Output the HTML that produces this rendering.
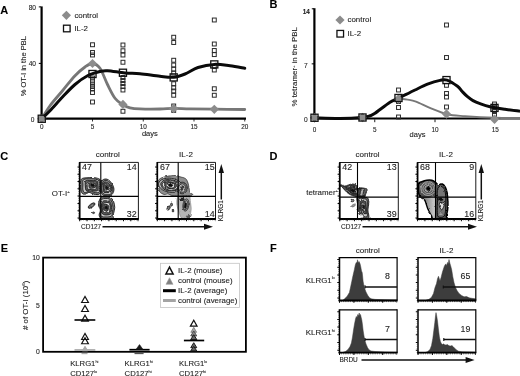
<!DOCTYPE html>
<html><head><meta charset="utf-8"><title>Figure</title>
<style>
html,body{margin:0;padding:0;background:#fff;}
body{width:520px;height:376px;overflow:hidden;font-family:"Liberation Sans",sans-serif;}
svg{display:block;font-family:"Liberation Sans",sans-serif;filter:blur(0.35px);}
text{stroke:#222;stroke-width:0.1px;}
</style></head><body>
<svg width="520" height="376" viewBox="0 0 520 376">
<rect width="520" height="376" fill="#fff"/>
<text x="0.30" y="14.30" font-size="11.00" text-anchor="start" font-weight="bold" fill="#000" >A</text>
<line x1="41.60" y1="6.40" x2="41.60" y2="119.45" stroke="#000" stroke-width="2.20" />
<line x1="40.50" y1="118.55" x2="246.00" y2="118.55" stroke="#000" stroke-width="2.20" />
<text x="36.00" y="10.00" font-size="6.60" text-anchor="end" font-weight="normal" fill="#222" >80</text>
<line x1="38.80" y1="6.90" x2="41.00" y2="6.90" stroke="#000" stroke-width="1.00" />
<line x1="38.80" y1="63.40" x2="41.00" y2="63.40" stroke="#000" stroke-width="1.00" />
<text x="36.00" y="66.20" font-size="6.60" text-anchor="end" font-weight="normal" fill="#222" >40</text>
<text x="34.30" y="121.90" font-size="6.60" text-anchor="end" font-weight="normal" fill="#222" >0</text>
<text x="41.75" y="128.80" font-size="6.40" text-anchor="middle" font-weight="normal" fill="#222" >0</text>
<line x1="41.75" y1="119.00" x2="41.75" y2="121.50" stroke="#000" stroke-width="0.80" />
<text x="92.50" y="128.80" font-size="6.40" text-anchor="middle" font-weight="normal" fill="#222" >5</text>
<line x1="92.50" y1="119.00" x2="92.50" y2="121.50" stroke="#000" stroke-width="0.80" />
<text x="143.25" y="128.80" font-size="6.40" text-anchor="middle" font-weight="normal" fill="#222" >10</text>
<line x1="143.25" y1="119.00" x2="143.25" y2="121.50" stroke="#000" stroke-width="0.80" />
<text x="194.00" y="128.80" font-size="6.40" text-anchor="middle" font-weight="normal" fill="#222" >15</text>
<line x1="194.00" y1="119.00" x2="194.00" y2="121.50" stroke="#000" stroke-width="0.80" />
<text x="244.75" y="128.80" font-size="6.40" text-anchor="middle" font-weight="normal" fill="#222" >20</text>
<line x1="244.75" y1="119.00" x2="244.75" y2="121.50" stroke="#000" stroke-width="0.80" />
<text x="149.80" y="136.10" font-size="7.50" text-anchor="middle" font-weight="normal" fill="#222" >days</text>
<text transform="translate(25.90,66.20) rotate(-90)" font-size="7.50" text-anchor="middle" fill="#222">% OT-I in the PBL</text>
<rect x="90.55" y="42.80" width="3.90" height="3.90" fill="none" stroke="#2a2a2a" stroke-width="1.00"/>
<rect x="90.55" y="50.55" width="3.90" height="3.90" fill="none" stroke="#2a2a2a" stroke-width="1.00"/>
<rect x="90.55" y="53.05" width="3.90" height="3.90" fill="none" stroke="#2a2a2a" stroke-width="1.00"/>
<rect x="90.55" y="76.05" width="3.90" height="3.90" fill="none" stroke="#2a2a2a" stroke-width="1.00"/>
<rect x="90.55" y="79.05" width="3.90" height="3.90" fill="none" stroke="#2a2a2a" stroke-width="1.00"/>
<rect x="90.55" y="82.05" width="3.90" height="3.90" fill="none" stroke="#2a2a2a" stroke-width="1.00"/>
<rect x="90.55" y="84.55" width="3.90" height="3.90" fill="none" stroke="#2a2a2a" stroke-width="1.00"/>
<rect x="90.55" y="87.05" width="3.90" height="3.90" fill="none" stroke="#2a2a2a" stroke-width="1.00"/>
<rect x="90.55" y="90.55" width="3.90" height="3.90" fill="none" stroke="#2a2a2a" stroke-width="1.00"/>
<rect x="90.55" y="100.05" width="3.90" height="3.90" fill="none" stroke="#2a2a2a" stroke-width="1.00"/>
<rect x="121.00" y="43.05" width="3.90" height="3.90" fill="none" stroke="#2a2a2a" stroke-width="1.00"/>
<rect x="121.00" y="48.80" width="3.90" height="3.90" fill="none" stroke="#2a2a2a" stroke-width="1.00"/>
<rect x="121.00" y="53.05" width="3.90" height="3.90" fill="none" stroke="#2a2a2a" stroke-width="1.00"/>
<rect x="121.00" y="60.30" width="3.90" height="3.90" fill="none" stroke="#2a2a2a" stroke-width="1.00"/>
<rect x="121.00" y="75.55" width="3.90" height="3.90" fill="none" stroke="#2a2a2a" stroke-width="1.00"/>
<rect x="121.00" y="78.55" width="3.90" height="3.90" fill="none" stroke="#2a2a2a" stroke-width="1.00"/>
<rect x="121.00" y="81.55" width="3.90" height="3.90" fill="none" stroke="#2a2a2a" stroke-width="1.00"/>
<rect x="121.00" y="84.55" width="3.90" height="3.90" fill="none" stroke="#2a2a2a" stroke-width="1.00"/>
<rect x="121.00" y="88.05" width="3.90" height="3.90" fill="none" stroke="#2a2a2a" stroke-width="1.00"/>
<rect x="121.00" y="109.30" width="3.90" height="3.90" fill="none" stroke="#2a2a2a" stroke-width="1.00"/>
<rect x="171.75" y="35.30" width="3.90" height="3.90" fill="none" stroke="#2a2a2a" stroke-width="1.00"/>
<rect x="171.75" y="40.55" width="3.90" height="3.90" fill="none" stroke="#2a2a2a" stroke-width="1.00"/>
<rect x="171.75" y="58.30" width="3.90" height="3.90" fill="none" stroke="#2a2a2a" stroke-width="1.00"/>
<rect x="171.75" y="63.05" width="3.90" height="3.90" fill="none" stroke="#2a2a2a" stroke-width="1.00"/>
<rect x="171.75" y="67.30" width="3.90" height="3.90" fill="none" stroke="#2a2a2a" stroke-width="1.00"/>
<rect x="171.75" y="71.05" width="3.90" height="3.90" fill="none" stroke="#2a2a2a" stroke-width="1.00"/>
<rect x="171.75" y="81.80" width="3.90" height="3.90" fill="none" stroke="#2a2a2a" stroke-width="1.00"/>
<rect x="171.75" y="85.85" width="3.90" height="3.90" fill="none" stroke="#2a2a2a" stroke-width="1.00"/>
<rect x="171.75" y="89.05" width="3.90" height="3.90" fill="none" stroke="#2a2a2a" stroke-width="1.00"/>
<rect x="171.75" y="93.30" width="3.90" height="3.90" fill="none" stroke="#2a2a2a" stroke-width="1.00"/>
<rect x="171.75" y="104.05" width="3.90" height="3.90" fill="none" stroke="#2a2a2a" stroke-width="1.00"/>
<rect x="171.75" y="108.45" width="3.90" height="3.90" fill="none" stroke="#2a2a2a" stroke-width="1.00"/>
<rect x="212.35" y="18.05" width="3.90" height="3.90" fill="none" stroke="#2a2a2a" stroke-width="1.00"/>
<rect x="212.35" y="42.05" width="3.90" height="3.90" fill="none" stroke="#2a2a2a" stroke-width="1.00"/>
<rect x="212.35" y="48.55" width="3.90" height="3.90" fill="none" stroke="#2a2a2a" stroke-width="1.00"/>
<rect x="212.35" y="52.65" width="3.90" height="3.90" fill="none" stroke="#2a2a2a" stroke-width="1.00"/>
<rect x="212.35" y="64.55" width="3.90" height="3.90" fill="none" stroke="#2a2a2a" stroke-width="1.00"/>
<rect x="212.35" y="68.05" width="3.90" height="3.90" fill="none" stroke="#2a2a2a" stroke-width="1.00"/>
<rect x="212.35" y="86.80" width="3.90" height="3.90" fill="none" stroke="#2a2a2a" stroke-width="1.00"/>
<rect x="212.35" y="93.30" width="3.90" height="3.90" fill="none" stroke="#2a2a2a" stroke-width="1.00"/>
<rect x="39.80" y="116.80" width="3.90" height="3.90" fill="none" stroke="#2a2a2a" stroke-width="1.00"/>
<path d="M41.75,118.75 C43.12,116.58 46.54,110.42 50.00,105.75 C53.46,101.08 58.33,95.75 62.50,90.75 C66.67,85.75 71.25,79.71 75.00,75.75 C78.75,71.79 82.08,69.04 85.00,67.00 C87.92,64.96 90.00,63.29 92.50,63.50 C95.00,63.71 97.50,64.75 100.00,68.25 C102.50,71.75 105.00,79.50 107.50,84.50 C110.00,89.50 112.50,94.92 115.00,98.25 C117.50,101.58 120.00,102.91 122.50,104.50 C125.00,106.09 127.08,107.07 130.00,107.80 C132.92,108.53 135.00,108.70 140.00,108.90 C145.00,109.10 154.38,109.10 160.00,109.00 C165.62,108.90 168.70,108.32 173.70,108.30 C178.70,108.28 183.23,108.75 190.00,108.90 C196.77,109.05 205.18,109.10 214.30,109.20 C223.43,109.30 239.68,109.45 244.75,109.50" fill="none" stroke="#777" stroke-width="2.8" stroke-linecap="round"/>
<path d="M41.75,118.75 C43.12,117.42 46.54,114.38 50.00,110.75 C53.46,107.12 58.33,101.38 62.50,97.00 C66.67,92.62 70.83,88.04 75.00,84.50 C79.17,80.96 83.33,77.92 87.50,75.75 C91.67,73.58 96.67,72.33 100.00,71.50 C103.33,70.67 103.33,70.52 107.50,70.75 C111.67,70.98 119.58,72.40 125.00,72.90 C130.42,73.40 134.17,73.18 140.00,73.75 C145.83,74.32 154.38,75.72 160.00,76.30 C165.62,76.88 169.58,77.58 173.75,77.20 C177.92,76.82 180.96,75.62 185.00,74.00 C189.04,72.38 193.10,69.10 198.00,67.50 C202.90,65.90 209.07,64.68 214.40,64.40 C219.73,64.12 224.94,65.17 230.00,65.80 C235.06,66.43 242.29,67.80 244.75,68.20" fill="none" stroke="#0a0a0a" stroke-width="3.0" stroke-linecap="round"/>
<path d="M37.15,118.75 L41.75,114.15 L46.35,118.75 L41.75,123.35 Z" fill="#8c8c8c"/>
<path d="M87.90,63.50 L92.50,58.90 L97.10,63.50 L92.50,68.10 Z" fill="#8c8c8c"/>
<path d="M118.35,104.40 L122.95,99.80 L127.55,104.40 L122.95,109.00 Z" fill="#8c8c8c"/>
<path d="M169.10,108.60 L173.70,104.00 L178.30,108.60 L173.70,113.20 Z" fill="#8c8c8c"/>
<path d="M209.70,109.30 L214.30,104.70 L218.90,109.30 L214.30,113.90 Z" fill="#8c8c8c"/>
<rect x="38.20" y="115.20" width="7.10" height="7.10" fill="none" stroke="#111" stroke-width="1.30"/>
<rect x="88.95" y="70.45" width="7.10" height="7.10" fill="none" stroke="#111" stroke-width="1.30"/>
<rect x="119.40" y="69.20" width="7.10" height="7.10" fill="none" stroke="#111" stroke-width="1.30"/>
<rect x="170.15" y="73.85" width="7.10" height="7.10" fill="none" stroke="#111" stroke-width="1.30"/>
<rect x="210.75" y="60.85" width="7.10" height="7.10" fill="none" stroke="#111" stroke-width="1.30"/>
<path d="M61.80,15.30 L66.40,10.70 L71.00,15.30 L66.40,19.90 Z" fill="#8c8c8c"/>
<text x="74.40" y="17.50" font-size="7.90" text-anchor="start" font-weight="normal" fill="#222" >control</text>
<rect x="63.50" y="25.20" width="6.60" height="6.60" fill="none" stroke="#111" stroke-width="1.30"/>
<text x="74.40" y="31.20" font-size="7.90" text-anchor="start" font-weight="normal" fill="#222" >IL-2</text>
<text x="269.60" y="8.20" font-size="11.00" text-anchor="start" font-weight="bold" fill="#000" >B</text>
<line x1="314.40" y1="8.20" x2="314.40" y2="119.20" stroke="#000" stroke-width="2.20" />
<line x1="313.30" y1="118.50" x2="520.00" y2="118.50" stroke="#000" stroke-width="2.20" />
<text x="309.70" y="13.70" font-size="6.30" text-anchor="end" font-weight="bold" fill="#222" >14</text>
<line x1="311.80" y1="8.80" x2="314.00" y2="8.80" stroke="#000" stroke-width="1.00" />
<line x1="311.70" y1="63.85" x2="314.00" y2="63.85" stroke="#000" stroke-width="1.00" />
<text x="307.70" y="67.70" font-size="6.60" text-anchor="end" font-weight="normal" fill="#222" >7</text>
<text x="307.60" y="121.90" font-size="6.60" text-anchor="end" font-weight="normal" fill="#222" >0</text>
<text x="314.50" y="131.70" font-size="6.40" text-anchor="middle" font-weight="normal" fill="#222" >0</text>
<line x1="314.50" y1="119.40" x2="314.50" y2="122.20" stroke="#000" stroke-width="0.90" />
<text x="374.75" y="131.70" font-size="6.40" text-anchor="middle" font-weight="normal" fill="#222" >5</text>
<line x1="374.75" y1="119.40" x2="374.75" y2="122.20" stroke="#000" stroke-width="0.90" />
<text x="435.00" y="131.70" font-size="6.40" text-anchor="middle" font-weight="normal" fill="#222" >10</text>
<line x1="435.00" y1="119.40" x2="435.00" y2="122.20" stroke="#000" stroke-width="0.90" />
<text x="495.25" y="131.70" font-size="6.40" text-anchor="middle" font-weight="normal" fill="#222" >15</text>
<line x1="495.25" y1="119.40" x2="495.25" y2="122.20" stroke="#000" stroke-width="0.90" />
<text x="417.50" y="136.60" font-size="7.50" text-anchor="middle" font-weight="normal" fill="#222" >days</text>
<text transform="translate(296.90,66.80) rotate(-90)" font-size="7.90" text-anchor="middle" fill="#222">% tetramer<tspan font-size="4" dy="-2.3">+</tspan><tspan dy="2.3"> in the PBL</tspan></text>
<rect x="396.55" y="88.05" width="3.90" height="3.90" fill="none" stroke="#2a2a2a" stroke-width="1.00"/>
<rect x="396.55" y="99.55" width="3.90" height="3.90" fill="none" stroke="#2a2a2a" stroke-width="1.00"/>
<rect x="396.55" y="105.55" width="3.90" height="3.90" fill="none" stroke="#2a2a2a" stroke-width="1.00"/>
<rect x="396.55" y="115.05" width="3.90" height="3.90" fill="none" stroke="#2a2a2a" stroke-width="1.00"/>
<rect x="444.55" y="23.05" width="3.90" height="3.90" fill="none" stroke="#2a2a2a" stroke-width="1.00"/>
<rect x="444.55" y="55.55" width="3.90" height="3.90" fill="none" stroke="#2a2a2a" stroke-width="1.00"/>
<rect x="444.55" y="83.35" width="3.90" height="3.90" fill="none" stroke="#2a2a2a" stroke-width="1.00"/>
<rect x="444.55" y="91.55" width="3.90" height="3.90" fill="none" stroke="#2a2a2a" stroke-width="1.00"/>
<rect x="444.55" y="95.05" width="3.90" height="3.90" fill="none" stroke="#2a2a2a" stroke-width="1.00"/>
<rect x="444.55" y="105.05" width="3.90" height="3.90" fill="none" stroke="#2a2a2a" stroke-width="1.00"/>
<rect x="492.55" y="102.05" width="3.90" height="3.90" fill="none" stroke="#2a2a2a" stroke-width="1.00"/>
<rect x="492.55" y="105.05" width="3.90" height="3.90" fill="none" stroke="#2a2a2a" stroke-width="1.00"/>
<rect x="492.55" y="109.55" width="3.90" height="3.90" fill="none" stroke="#2a2a2a" stroke-width="1.00"/>
<rect x="492.55" y="112.55" width="3.90" height="3.90" fill="none" stroke="#2a2a2a" stroke-width="1.00"/>
<path d="M398.80,98.60 C400.25,98.77 404.63,99.10 407.50,99.60 C410.37,100.10 412.08,100.13 416.00,101.60 C419.92,103.07 425.83,106.28 431.00,108.40 C436.17,110.52 441.33,113.00 447.00,114.30 C452.67,115.60 457.00,115.62 465.00,116.20 C473.00,116.78 485.83,117.50 495.00,117.80 C504.17,118.10 515.83,117.97 520.00,118.00" fill="none" stroke="#777" stroke-width="1.9"/>
<path d="M314.50,117.75 C318.75,117.86 332.08,118.46 340.00,118.40 C347.92,118.34 357.00,117.84 362.00,117.40 C367.00,116.96 367.83,116.44 370.00,115.75 C372.17,115.06 371.67,115.49 375.00,113.25 C378.33,111.01 386.00,104.84 390.00,102.30 C394.00,99.76 394.83,100.05 399.00,98.00 C403.17,95.95 410.25,92.30 415.00,90.00 C419.75,87.70 423.33,85.80 427.50,84.20 C431.67,82.60 436.75,81.08 440.00,80.40 C443.25,79.72 444.08,79.12 447.00,80.10 C449.92,81.08 455.00,84.43 457.50,86.30 C460.00,88.17 460.33,89.57 462.00,91.30 C463.67,93.03 465.67,95.15 467.50,96.70 C469.33,98.25 470.92,99.43 473.00,100.60 C475.08,101.77 477.17,102.67 480.00,103.70 C482.83,104.73 485.83,105.87 490.00,106.80 C494.17,107.73 500.00,108.57 505.00,109.30 C510.00,110.03 517.50,110.88 520.00,111.20" fill="none" stroke="#0a0a0a" stroke-width="3.0"/>
<path d="M309.80,117.75 L314.50,113.05 L319.20,117.75 L314.50,122.45 Z" fill="#8c8c8c"/>
<path d="M357.80,117.50 L362.50,112.80 L367.20,117.50 L362.50,122.20 Z" fill="#8c8c8c"/>
<path d="M393.80,99.00 L398.50,94.30 L403.20,99.00 L398.50,103.70 Z" fill="#8c8c8c"/>
<path d="M441.80,114.00 L446.50,109.30 L451.20,114.00 L446.50,118.70 Z" fill="#8c8c8c"/>
<path d="M489.80,119.20 L494.50,114.50 L499.20,119.20 L494.50,123.90 Z" fill="#8c8c8c"/>
<rect x="310.95" y="114.20" width="7.10" height="7.10" fill="none" stroke="#111" stroke-width="1.30"/>
<rect x="358.95" y="113.95" width="7.10" height="7.10" fill="none" stroke="#111" stroke-width="1.30"/>
<rect x="394.95" y="94.45" width="7.10" height="7.10" fill="none" stroke="#111" stroke-width="1.30"/>
<rect x="442.95" y="76.55" width="7.10" height="7.10" fill="none" stroke="#111" stroke-width="1.30"/>
<rect x="490.95" y="104.35" width="7.10" height="7.10" fill="none" stroke="#111" stroke-width="1.30"/>
<path d="M335.40,20.00 L340.00,15.40 L344.60,20.00 L340.00,24.60 Z" fill="#8c8c8c"/>
<text x="347.50" y="22.30" font-size="7.90" text-anchor="start" font-weight="normal" fill="#222" >control</text>
<rect x="336.95" y="30.45" width="6.60" height="6.60" fill="none" stroke="#111" stroke-width="1.30"/>
<text x="347.50" y="35.70" font-size="7.90" text-anchor="start" font-weight="normal" fill="#222" >IL-2</text>
<text x="0.30" y="159.60" font-size="11.00" text-anchor="start" font-weight="bold" fill="#000" >C</text>
<text x="107.70" y="157.30" font-size="8.00" text-anchor="middle" font-weight="normal" fill="#222" >control</text>
<text x="186.00" y="157.30" font-size="8.00" text-anchor="middle" font-weight="normal" fill="#222" >IL-2</text>
<text x="51.80" y="195.80" font-size="7.90" text-anchor="start" font-weight="normal" fill="#222" >OT-I<tspan font-size="4.4" dy="-2.6">+</tspan></text>
<text x="81.00" y="228.70" font-size="6.50" text-anchor="start" font-weight="normal" fill="#222" >CD127</text>
<line x1="102.50" y1="226.80" x2="207.00" y2="226.80" stroke="#111" stroke-width="1.50" />
<path d="M213.00,226.80 L204.00,223.80 L204.00,229.80 Z" fill="#111"/>
<line x1="221.30" y1="199.50" x2="221.30" y2="170.00" stroke="#111" stroke-width="1.50" />
<path d="M221.30,164.00 L218.60,173.00 L224.00,173.00 Z" fill="#111"/>
<text transform="translate(223.20,210.70) rotate(-90)" font-size="6.50" text-anchor="middle" fill="#222">KLRG1</text>
<text x="269.50" y="159.60" font-size="11.00" text-anchor="start" font-weight="bold" fill="#000" >D</text>
<text x="367.60" y="157.30" font-size="8.00" text-anchor="middle" font-weight="normal" fill="#222" >control</text>
<text x="446.00" y="157.30" font-size="8.00" text-anchor="middle" font-weight="normal" fill="#222" >IL-2</text>
<text x="306.20" y="194.50" font-size="7.90" text-anchor="start" font-weight="normal" fill="#222" >tetramer<tspan font-size="4.4" dy="-2.6">+</tspan></text>
<text x="341.00" y="228.70" font-size="6.50" text-anchor="start" font-weight="normal" fill="#222" >CD127</text>
<line x1="362.50" y1="226.80" x2="471.00" y2="226.80" stroke="#111" stroke-width="1.50" />
<path d="M477.00,226.80 L468.00,223.80 L468.00,229.80 Z" fill="#111"/>
<line x1="481.30" y1="199.50" x2="481.30" y2="170.00" stroke="#111" stroke-width="1.50" />
<path d="M481.30,164.00 L478.60,173.00 L484.00,173.00 Z" fill="#111"/>
<text transform="translate(483.20,210.70) rotate(-90)" font-size="6.50" text-anchor="middle" fill="#222">KLRG1</text>
<defs><filter id="rough" x="-5%" y="-5%" width="110%" height="110%"><feTurbulence type="fractalNoise" baseFrequency="0.35" numOctaves="2" seed="3" result="n"/><feDisplacementMap in="SourceGraphic" in2="n" scale="2.2" xChannelSelector="R" yChannelSelector="G"/></filter></defs>
<g filter="url(#rough)">
<path d="M80.90,180.00 C81.28,178.87 81.98,178.57 83.00,178.20 C84.02,177.83 85.50,177.92 87.00,177.80 C88.50,177.68 90.42,177.47 92.00,177.50 C93.58,177.53 95.17,177.67 96.50,178.00 C97.83,178.33 99.22,178.67 100.00,179.50 C100.78,180.33 101.00,181.58 101.20,183.00 C101.40,184.42 101.27,186.42 101.20,188.00 C101.13,189.58 101.33,191.40 100.80,192.50 C100.27,193.60 99.30,194.37 98.00,194.60 C96.70,194.83 94.50,194.27 93.00,193.90 C91.50,193.53 90.17,192.38 89.00,192.40 C87.83,192.42 87.08,193.78 86.00,194.00 C84.92,194.22 83.35,194.37 82.50,193.70 C81.65,193.03 81.20,191.45 80.90,190.00 C80.60,188.55 80.70,186.67 80.70,185.00 C80.70,183.33 80.52,181.13 80.90,180.00Z" fill="#7c7c7c" stroke="#0c0c0c" stroke-width="0.80" opacity="1.00" stroke-linejoin="round"/>
<path d="M82.92,180.69 C83.23,179.73 84.01,179.44 84.87,179.16 C85.73,178.89 86.91,179.08 88.07,179.04 C89.23,178.99 90.59,178.86 91.83,178.89 C93.07,178.93 94.42,179.02 95.51,179.25 C96.60,179.47 97.72,179.51 98.40,180.24 C99.09,180.97 99.46,182.45 99.64,183.62 C99.81,184.80 99.46,185.99 99.42,187.30 C99.39,188.61 99.83,190.58 99.45,191.50 C99.06,192.42 98.14,192.75 97.12,192.84 C96.09,192.92 94.49,192.33 93.30,192.02 C92.10,191.70 90.99,190.93 89.93,190.96 C88.88,190.98 87.93,191.91 86.97,192.15 C86.02,192.39 84.91,192.88 84.22,192.39 C83.53,191.90 83.03,190.43 82.82,189.19 C82.61,187.95 82.96,186.36 82.98,184.95 C82.99,183.53 82.60,181.66 82.92,180.69Z" fill="#c9c9c9" stroke="#0c0c0c" stroke-width="0.80" opacity="1.00" stroke-linejoin="round"/>
<path d="M85.22,181.57 C85.39,180.80 85.55,180.71 86.22,180.51 C86.89,180.32 88.22,180.44 89.21,180.41 C90.20,180.38 91.17,180.33 92.16,180.33 C93.14,180.34 94.23,180.23 95.14,180.45 C96.04,180.68 97.14,181.13 97.61,181.69 C98.09,182.26 97.90,182.92 98.00,183.84 C98.09,184.77 98.18,186.27 98.19,187.25 C98.21,188.23 98.37,189.11 98.08,189.72 C97.79,190.34 97.33,190.74 96.46,190.95 C95.60,191.15 93.93,191.14 92.87,190.95 C91.81,190.76 90.92,189.80 90.12,189.80 C89.33,189.80 88.75,190.80 88.13,190.95 C87.50,191.10 86.84,191.16 86.39,190.69 C85.95,190.22 85.65,189.07 85.45,188.14 C85.25,187.22 85.23,186.23 85.19,185.14 C85.15,184.04 85.05,182.34 85.22,181.57Z" fill="#5c5c5c" stroke="#0c0c0c" stroke-width="0.80" opacity="1.00" stroke-linejoin="round"/>
<path d="M87.38,182.78 C87.62,182.32 88.07,182.44 88.53,182.29 C88.99,182.15 89.51,181.99 90.11,181.91 C90.71,181.83 91.38,181.75 92.12,181.80 C92.87,181.85 93.90,182.13 94.60,182.23 C95.31,182.34 96.01,182.08 96.34,182.43 C96.67,182.77 96.59,183.63 96.58,184.31 C96.58,184.98 96.39,185.80 96.33,186.46 C96.27,187.13 96.49,187.75 96.25,188.29 C96.01,188.83 95.49,189.59 94.88,189.71 C94.28,189.83 93.28,189.18 92.63,189.03 C91.98,188.87 91.52,188.74 90.98,188.77 C90.43,188.80 89.86,189.11 89.38,189.21 C88.90,189.31 88.40,189.64 88.10,189.38 C87.79,189.12 87.72,188.38 87.55,187.66 C87.38,186.94 87.11,185.86 87.08,185.05 C87.05,184.23 87.14,183.24 87.38,182.78Z" fill="#e4e4e4" stroke="#0c0c0c" stroke-width="0.80" opacity="1.00" stroke-linejoin="round"/>
<path d="M89.13,183.91 C89.33,183.57 89.90,183.04 90.18,182.86 C90.46,182.67 90.47,182.79 90.83,182.79 C91.20,182.80 91.85,182.87 92.37,182.88 C92.90,182.89 93.60,182.78 93.97,182.87 C94.35,182.97 94.40,183.15 94.61,183.43 C94.82,183.72 95.06,184.13 95.23,184.59 C95.40,185.04 95.64,185.69 95.64,186.17 C95.63,186.65 95.40,187.22 95.21,187.47 C95.02,187.73 94.83,187.62 94.48,187.71 C94.14,187.80 93.57,188.03 93.14,188.01 C92.71,187.98 92.33,187.61 91.92,187.57 C91.51,187.53 91.10,187.72 90.68,187.77 C90.27,187.82 89.73,188.08 89.43,187.84 C89.14,187.61 89.00,186.83 88.92,186.34 C88.85,185.85 88.93,185.31 88.97,184.90 C89.00,184.50 88.93,184.25 89.13,183.91Z" fill="#5c5c5c" stroke="#0c0c0c" stroke-width="0.80" opacity="1.00" stroke-linejoin="round"/>
<path d="M91.02,184.16 C91.01,183.90 90.96,183.99 91.08,183.98 C91.19,183.96 91.50,184.00 91.71,184.07 C91.92,184.14 92.07,184.40 92.36,184.38 C92.64,184.36 93.18,183.96 93.40,183.95 C93.61,183.93 93.55,184.18 93.63,184.30 C93.72,184.41 93.78,184.35 93.88,184.63 C93.98,184.90 94.22,185.67 94.22,185.94 C94.22,186.20 94.06,186.16 93.90,186.21 C93.73,186.26 93.43,186.23 93.24,186.24 C93.04,186.24 92.84,186.30 92.72,186.25 C92.59,186.21 92.70,185.89 92.50,185.97 C92.30,186.05 91.70,186.72 91.51,186.75 C91.33,186.78 91.44,186.34 91.38,186.14 C91.32,185.94 91.21,185.65 91.16,185.54 C91.12,185.43 91.15,185.74 91.13,185.51 C91.10,185.28 91.03,184.41 91.02,184.16Z" fill="#111" stroke="#0c0c0c" stroke-width="0.80" opacity="1.00" stroke-linejoin="round"/>
<path d="M101.62,181.12 C102.46,179.42 104.54,178.94 106.00,179.00 C107.46,179.06 109.12,180.21 110.38,181.50 C111.62,182.79 112.94,185.15 113.50,186.75 C114.06,188.35 114.12,189.73 113.75,191.12 C113.38,192.52 112.54,194.35 111.25,195.12 C109.96,195.90 107.50,195.85 106.00,195.75 C104.50,195.65 103.08,195.58 102.25,194.50 C101.42,193.42 101.10,191.48 101.00,189.25 C100.90,187.02 100.79,182.83 101.62,181.12Z" fill="#7c7c7c" stroke="#0c0c0c" stroke-width="0.80" opacity="1.00" stroke-linejoin="round"/>
<path d="M102.85,182.41 C103.53,180.99 104.90,180.38 106.01,180.44 C107.13,180.50 108.48,181.66 109.53,182.77 C110.59,183.88 111.87,185.83 112.35,187.08 C112.83,188.33 112.69,189.11 112.42,190.28 C112.14,191.45 111.70,193.39 110.70,194.09 C109.70,194.79 107.66,194.59 106.43,194.48 C105.20,194.37 104.08,194.33 103.33,193.41 C102.57,192.49 101.97,190.78 101.89,188.95 C101.81,187.11 102.16,183.83 102.85,182.41Z" fill="#c9c9c9" stroke="#0c0c0c" stroke-width="0.80" opacity="1.00" stroke-linejoin="round"/>
<path d="M103.46,183.09 C103.92,181.92 105.11,181.79 106.03,181.91 C106.95,182.02 108.08,182.95 108.99,183.79 C109.90,184.64 111.04,185.92 111.48,186.98 C111.92,188.04 111.87,189.28 111.63,190.16 C111.39,191.05 110.95,191.88 110.04,192.29 C109.13,192.69 107.21,192.67 106.16,192.59 C105.12,192.50 104.23,192.39 103.75,191.77 C103.26,191.16 103.29,190.35 103.25,188.90 C103.20,187.45 103.00,184.26 103.46,183.09Z" fill="#5c5c5c" stroke="#0c0c0c" stroke-width="0.80" opacity="1.00" stroke-linejoin="round"/>
<path d="M104.77,184.55 C105.18,183.75 106.06,183.75 106.65,183.80 C107.23,183.85 107.66,184.26 108.26,184.85 C108.87,185.44 109.94,186.64 110.28,187.35 C110.61,188.07 110.54,188.51 110.28,189.15 C110.02,189.80 109.37,190.82 108.73,191.21 C108.09,191.60 107.02,191.60 106.42,191.51 C105.83,191.41 105.52,191.13 105.15,190.65 C104.77,190.17 104.23,189.63 104.17,188.62 C104.11,187.60 104.35,185.36 104.77,184.55Z" fill="#e4e4e4" stroke="#0c0c0c" stroke-width="0.80" opacity="1.00" stroke-linejoin="round"/>
<path d="M105.54,185.36 C105.75,184.75 105.98,184.61 106.44,184.71 C106.90,184.80 107.92,185.45 108.30,185.91 C108.67,186.38 108.52,187.04 108.70,187.50 C108.88,187.97 109.45,188.31 109.36,188.70 C109.27,189.08 108.66,189.67 108.17,189.82 C107.68,189.98 106.82,189.65 106.44,189.63 C106.06,189.62 106.11,189.92 105.90,189.70 C105.70,189.49 105.28,189.05 105.22,188.33 C105.16,187.60 105.34,185.96 105.54,185.36Z" fill="#5c5c5c" stroke="#0c0c0c" stroke-width="0.80" opacity="1.00" stroke-linejoin="round"/>
<path d="M106.20,186.87 C106.37,186.55 106.91,186.17 107.09,186.11 C107.27,186.05 107.19,186.29 107.30,186.52 C107.41,186.74 107.65,187.22 107.73,187.46 C107.81,187.69 107.84,187.72 107.78,187.95 C107.71,188.18 107.51,188.74 107.34,188.85 C107.17,188.97 106.91,188.64 106.76,188.63 C106.60,188.61 106.50,188.86 106.39,188.76 C106.28,188.66 106.14,188.35 106.10,188.04 C106.07,187.72 106.04,187.19 106.20,186.87Z" fill="#111" stroke="#0c0c0c" stroke-width="0.80" opacity="1.00" stroke-linejoin="round"/>
<path d="M100.38,198.12 C101.42,196.77 103.08,196.98 104.75,196.88 C106.42,196.77 108.92,196.77 110.38,197.50 C111.83,198.23 112.77,199.58 113.50,201.25 C114.23,202.92 114.75,205.42 114.75,207.50 C114.75,209.58 113.92,211.98 113.50,213.75 C113.08,215.52 113.50,217.29 112.25,218.12 C111.00,218.96 107.88,218.69 106.00,218.75 C104.12,218.81 102.15,219.12 101.00,218.50 C99.85,217.88 99.23,216.42 99.12,215.00 C99.02,213.58 100.48,211.67 100.38,210.00 C100.27,208.33 98.50,206.98 98.50,205.00 C98.50,203.02 99.33,199.48 100.38,198.12Z" fill="#7c7c7c" stroke="#0c0c0c" stroke-width="0.80" opacity="1.00" stroke-linejoin="round"/>
<path d="M101.48,199.83 C102.33,198.64 103.72,198.58 105.08,198.45 C106.44,198.32 108.50,198.39 109.64,199.08 C110.77,199.77 111.33,201.18 111.89,202.58 C112.46,203.98 112.95,205.80 113.04,207.48 C113.12,209.16 112.72,211.21 112.40,212.66 C112.07,214.12 112.14,215.52 111.09,216.23 C110.05,216.94 107.69,216.87 106.13,216.92 C104.57,216.98 102.69,217.13 101.71,216.56 C100.74,215.99 100.28,214.66 100.28,213.49 C100.27,212.33 101.72,210.87 101.67,209.56 C101.62,208.25 100.01,207.25 99.98,205.63 C99.95,204.01 100.63,201.03 101.48,199.83Z" fill="#c9c9c9" stroke="#0c0c0c" stroke-width="0.80" opacity="1.00" stroke-linejoin="round"/>
<path d="M102.87,201.46 C103.60,200.57 104.44,200.74 105.46,200.70 C106.48,200.67 108.07,200.77 108.99,201.23 C109.90,201.70 110.48,202.43 110.95,203.52 C111.41,204.62 111.74,206.44 111.76,207.81 C111.79,209.18 111.33,210.71 111.12,211.76 C110.91,212.82 111.31,213.59 110.49,214.13 C109.67,214.67 107.43,214.98 106.22,215.01 C105.01,215.04 104.00,214.74 103.22,214.29 C102.43,213.83 101.67,213.15 101.52,212.26 C101.36,211.36 102.35,209.96 102.28,208.92 C102.21,207.88 100.98,207.26 101.08,206.02 C101.18,204.78 102.14,202.35 102.87,201.46Z" fill="#5c5c5c" stroke="#0c0c0c" stroke-width="0.80" opacity="1.00" stroke-linejoin="round"/>
<path d="M103.88,203.47 C104.31,202.87 104.70,202.90 105.45,202.76 C106.21,202.63 107.64,202.29 108.39,202.65 C109.15,203.01 109.70,204.09 109.99,204.95 C110.27,205.81 110.16,206.91 110.10,207.82 C110.04,208.72 109.75,209.57 109.65,210.37 C109.55,211.17 110.09,212.24 109.49,212.62 C108.89,213.00 106.95,212.66 106.03,212.63 C105.12,212.60 104.50,212.75 103.98,212.45 C103.46,212.15 102.92,211.51 102.89,210.82 C102.87,210.13 103.84,209.07 103.84,208.31 C103.83,207.56 102.85,207.12 102.86,206.31 C102.87,205.50 103.45,204.06 103.88,203.47Z" fill="#e4e4e4" stroke="#0c0c0c" stroke-width="0.80" opacity="1.00" stroke-linejoin="round"/>
<path d="M104.33,204.57 C104.70,204.22 105.56,204.28 106.06,204.32 C106.57,204.37 106.90,204.57 107.36,204.84 C107.81,205.11 108.58,205.54 108.80,205.96 C109.03,206.37 108.79,206.73 108.70,207.34 C108.61,207.94 108.38,209.05 108.28,209.57 C108.17,210.09 108.39,210.16 108.06,210.43 C107.73,210.69 106.79,211.13 106.30,211.16 C105.80,211.20 105.45,210.82 105.07,210.63 C104.70,210.44 104.10,210.42 104.04,210.04 C103.98,209.67 104.75,208.99 104.71,208.39 C104.67,207.79 103.88,207.08 103.81,206.44 C103.75,205.80 103.95,204.92 104.33,204.57Z" fill="#5c5c5c" stroke="#0c0c0c" stroke-width="0.80" opacity="1.00" stroke-linejoin="round"/>
<path d="M105.77,206.14 C105.89,206.02 105.73,206.29 105.96,206.32 C106.18,206.35 106.93,206.22 107.14,206.31 C107.34,206.40 107.15,206.63 107.19,206.87 C107.22,207.11 107.31,207.52 107.35,207.75 C107.39,207.99 107.45,208.01 107.45,208.26 C107.45,208.52 107.54,209.19 107.34,209.29 C107.15,209.38 106.53,208.89 106.27,208.82 C106.00,208.74 105.93,208.94 105.75,208.86 C105.57,208.77 105.26,208.52 105.19,208.31 C105.12,208.11 105.32,207.86 105.33,207.64 C105.34,207.42 105.17,207.26 105.25,207.01 C105.32,206.76 105.66,206.25 105.77,206.14Z" fill="#111" stroke="#0c0c0c" stroke-width="0.80" opacity="1.00" stroke-linejoin="round"/>
<ellipse cx="91.60" cy="205.60" rx="4.00" ry="1.70" transform="rotate(-35.0 91.60 205.60)" fill="#6a6a6a" stroke="#0c0c0c" stroke-width="0.70"/>
<ellipse cx="92.20" cy="205.20" rx="1.60" ry="0.60" transform="rotate(-35.0 92.20 205.20)" fill="#ddd" stroke="#111" stroke-width="0.40"/>
<ellipse cx="93.50" cy="212.80" rx="1.10" ry="0.80" transform="rotate(0.0 93.50 212.80)" fill="#6a6a6a" stroke="#0c0c0c" stroke-width="0.70"/>
<path d="M158.25,180.50 C158.88,179.52 160.12,178.46 161.75,177.75 C163.38,177.04 165.71,176.62 168.00,176.25 C170.29,175.88 173.52,175.42 175.50,175.50 C177.48,175.58 178.21,176.23 179.88,176.75 C181.54,177.27 184.15,177.58 185.50,178.62 C186.85,179.67 187.42,181.44 188.00,183.00 C188.58,184.56 188.67,186.44 189.00,188.00 C189.33,189.56 189.38,191.33 190.00,192.38 C190.62,193.42 192.71,193.73 192.75,194.25 C192.79,194.77 191.67,195.29 190.25,195.50 C188.83,195.71 186.29,195.40 184.25,195.50 C182.21,195.60 180.08,196.12 178.00,196.12 C175.92,196.12 173.42,195.88 171.75,195.50 C170.08,195.12 169.25,194.04 168.00,193.88 C166.75,193.71 165.60,194.81 164.25,194.50 C162.90,194.19 160.81,193.19 159.88,192.00 C158.94,190.81 158.94,188.77 158.62,187.38 C158.31,185.98 158.06,184.77 158.00,183.62 C157.94,182.48 157.62,181.48 158.25,180.50Z" fill="#8e8e8e" stroke="#222" stroke-width="0.70" opacity="1.00" stroke-linejoin="round"/>
<path d="M182.38,186.97 C182.24,187.98 181.65,189.02 180.78,189.82 C179.91,190.61 178.58,191.33 177.14,191.76 C175.71,192.20 173.90,192.44 172.19,192.43 C170.48,192.42 168.55,192.14 166.90,191.69 C165.26,191.23 163.58,190.49 162.33,189.68 C161.07,188.86 159.99,187.81 159.37,186.80 C158.75,185.79 158.48,184.63 158.62,183.63 C158.76,182.62 159.35,181.58 160.22,180.78 C161.09,179.99 162.42,179.27 163.86,178.84 C165.29,178.40 167.10,178.16 168.81,178.17 C170.52,178.18 172.45,178.46 174.10,178.91 C175.74,179.37 177.42,180.11 178.67,180.92 C179.93,181.74 181.01,182.79 181.63,183.80 C182.25,184.81 182.52,185.97 182.38,186.97Z" fill="#c9c9c9" stroke="#0c0c0c" stroke-width="0.80" opacity="1.00" stroke-linejoin="round"/>
<path d="M180.66,186.56 C180.56,187.38 179.92,188.23 179.14,188.87 C178.36,189.51 177.21,190.04 175.97,190.39 C174.74,190.74 173.14,190.90 171.75,190.95 C170.36,191.00 169.03,191.03 167.64,190.70 C166.25,190.37 164.45,189.69 163.42,188.96 C162.39,188.22 161.90,187.14 161.46,186.28 C161.01,185.43 160.67,184.60 160.74,183.85 C160.81,183.09 161.18,182.40 161.86,181.74 C162.54,181.08 163.62,180.22 164.84,179.88 C166.07,179.53 167.78,179.60 169.21,179.65 C170.64,179.70 172.03,179.82 173.41,180.17 C174.79,180.51 176.45,181.09 177.51,181.72 C178.57,182.35 179.26,183.13 179.78,183.93 C180.31,184.74 180.77,185.74 180.66,186.56Z" fill="#7c7c7c" stroke="#0c0c0c" stroke-width="0.80" opacity="1.00" stroke-linejoin="round"/>
<path d="M178.27,186.18 C178.13,186.89 177.76,187.99 177.19,188.54 C176.62,189.09 175.82,189.15 174.85,189.46 C173.88,189.77 172.45,190.34 171.36,190.39 C170.27,190.44 169.41,190.14 168.31,189.76 C167.22,189.38 165.71,188.67 164.79,188.09 C163.87,187.52 163.22,186.95 162.79,186.29 C162.35,185.63 162.09,184.75 162.18,184.12 C162.27,183.50 162.65,183.08 163.34,182.55 C164.03,182.02 165.34,181.23 166.31,180.94 C167.28,180.64 168.09,180.79 169.17,180.78 C170.25,180.76 171.72,180.61 172.81,180.86 C173.90,181.10 174.83,181.67 175.71,182.24 C176.58,182.81 177.62,183.63 178.05,184.28 C178.48,184.94 178.41,185.47 178.27,186.18Z" fill="#e4e4e4" stroke="#0c0c0c" stroke-width="0.80" opacity="1.00" stroke-linejoin="round"/>
<path d="M176.47,186.17 C176.31,186.63 175.97,187.08 175.50,187.48 C175.03,187.89 174.41,188.39 173.67,188.59 C172.93,188.79 171.92,188.70 171.06,188.67 C170.20,188.65 169.28,188.61 168.49,188.43 C167.70,188.25 166.91,187.97 166.31,187.60 C165.71,187.22 165.19,186.67 164.89,186.19 C164.58,185.71 164.44,185.25 164.47,184.69 C164.50,184.13 164.59,183.33 165.08,182.83 C165.56,182.33 166.60,181.88 167.38,181.69 C168.17,181.50 169.00,181.61 169.78,181.69 C170.55,181.78 171.18,181.98 172.05,182.21 C172.93,182.45 174.29,182.69 175.02,183.11 C175.76,183.53 176.21,184.23 176.45,184.74 C176.69,185.25 176.63,185.72 176.47,186.17Z" fill="#5c5c5c" stroke="#0c0c0c" stroke-width="0.80" opacity="1.00" stroke-linejoin="round"/>
<path d="M174.53,185.92 C174.46,186.37 174.44,186.84 174.20,187.16 C173.97,187.48 173.61,187.69 173.11,187.86 C172.60,188.02 171.80,188.16 171.17,188.14 C170.54,188.12 169.97,188.00 169.33,187.73 C168.70,187.47 167.89,186.88 167.37,186.55 C166.85,186.21 166.47,186.01 166.24,185.74 C166.00,185.47 165.85,185.26 165.95,184.93 C166.05,184.60 166.46,184.07 166.84,183.76 C167.21,183.46 167.69,183.33 168.20,183.10 C168.70,182.87 169.25,182.37 169.88,182.39 C170.52,182.40 171.41,182.95 172.00,183.18 C172.60,183.40 173.01,183.54 173.44,183.75 C173.88,183.96 174.44,184.10 174.62,184.46 C174.80,184.82 174.59,185.47 174.53,185.92Z" fill="#e4e4e4" stroke="#0c0c0c" stroke-width="0.80" opacity="1.00" stroke-linejoin="round"/>
<path d="M172.80,185.43 C172.71,185.61 172.21,185.81 172.05,185.95 C171.89,186.09 172.04,186.10 171.86,186.26 C171.68,186.42 171.31,186.90 170.97,186.92 C170.64,186.93 170.17,186.48 169.85,186.37 C169.52,186.25 169.21,186.34 169.01,186.22 C168.82,186.10 168.78,185.90 168.68,185.65 C168.59,185.40 168.51,184.93 168.46,184.70 C168.41,184.48 168.23,184.43 168.40,184.31 C168.57,184.20 169.17,184.11 169.47,184.00 C169.78,183.89 170.02,183.68 170.24,183.68 C170.47,183.67 170.53,183.83 170.84,183.99 C171.15,184.15 171.79,184.50 172.09,184.65 C172.39,184.80 172.51,184.75 172.63,184.88 C172.75,185.01 172.90,185.25 172.80,185.43Z" fill="#0a0a0a" stroke="#0c0c0c" stroke-width="0.80" opacity="1.00" stroke-linejoin="round"/>
<path d="M187.30,188.00 C187.30,188.84 187.12,189.76 186.80,190.52 C186.49,191.27 185.98,192.01 185.42,192.53 C184.85,193.06 184.12,193.47 183.41,193.65 C182.71,193.84 181.89,193.84 181.19,193.65 C180.48,193.47 179.75,193.06 179.18,192.53 C178.62,192.01 178.11,191.27 177.80,190.52 C177.48,189.76 177.30,188.84 177.30,188.00 C177.30,187.16 177.48,186.24 177.80,185.48 C178.11,184.73 178.62,183.99 179.18,183.47 C179.75,182.94 180.48,182.53 181.19,182.35 C181.89,182.16 182.71,182.16 183.41,182.35 C184.12,182.53 184.85,182.94 185.42,183.47 C185.98,183.99 186.49,184.73 186.80,185.48 C187.12,186.24 187.30,187.16 187.30,188.00Z" fill="#777" stroke="#0c0c0c" stroke-width="0.70" opacity="1.00" stroke-linejoin="round"/>
<path d="M185.71,187.98 C185.74,188.45 185.51,188.96 185.34,189.44 C185.17,189.93 185.02,190.42 184.70,190.87 C184.37,191.32 183.97,191.99 183.39,192.15 C182.81,192.31 181.70,191.94 181.21,191.82 C180.71,191.69 180.74,191.79 180.40,191.41 C180.07,191.03 179.49,190.07 179.20,189.55 C178.92,189.03 178.72,188.85 178.70,188.31 C178.67,187.78 178.83,186.91 179.03,186.35 C179.24,185.78 179.46,185.34 179.93,184.93 C180.40,184.53 181.30,184.03 181.86,183.90 C182.42,183.77 182.81,183.97 183.28,184.16 C183.75,184.35 184.37,184.66 184.69,185.06 C185.01,185.46 185.01,186.08 185.18,186.57 C185.35,187.05 185.68,187.50 185.71,187.98Z" fill="#c9c9c9" stroke="#0c0c0c" stroke-width="0.70" opacity="1.00" stroke-linejoin="round"/>
<path d="M184.19,187.67 C184.18,187.95 183.79,188.63 183.66,188.95 C183.54,189.27 183.65,189.40 183.45,189.58 C183.25,189.77 182.75,189.91 182.47,190.04 C182.19,190.17 182.03,190.41 181.75,190.39 C181.46,190.36 180.92,190.18 180.77,189.90 C180.61,189.62 180.84,188.98 180.83,188.69 C180.81,188.40 180.69,188.45 180.70,188.15 C180.71,187.85 180.81,187.22 180.87,186.90 C180.92,186.57 180.80,186.37 181.03,186.20 C181.25,186.04 181.96,185.98 182.23,185.91 C182.49,185.85 182.44,185.79 182.63,185.80 C182.81,185.81 183.14,185.71 183.33,185.96 C183.51,186.21 183.59,186.99 183.73,187.28 C183.88,187.56 184.20,187.39 184.19,187.67Z" fill="#444" stroke="#0c0c0c" stroke-width="0.70" opacity="1.00" stroke-linejoin="round"/>
<path d="M178.00,196.88 C179.25,195.88 182.33,196.46 184.25,196.50 C186.17,196.54 188.46,196.12 189.50,197.12 C190.54,198.12 190.21,200.56 190.50,202.50 C190.79,204.44 191.29,206.67 191.25,208.75 C191.21,210.83 190.58,213.38 190.25,215.00 C189.92,216.62 190.15,217.88 189.25,218.50 C188.35,219.12 186.23,218.88 184.88,218.75 C183.52,218.62 182.02,218.58 181.12,217.75 C180.23,216.92 180.10,215.46 179.50,213.75 C178.90,212.04 177.96,209.38 177.50,207.50 C177.04,205.62 176.67,204.27 176.75,202.50 C176.83,200.73 176.75,197.88 178.00,196.88Z" fill="#b4b4b4" stroke="#777" stroke-width="0.50" opacity="1.00" stroke-linejoin="round"/>
<ellipse cx="185.90" cy="205.00" rx="3.00" ry="6.20" transform="rotate(8.0 185.90 205.00)" fill="#9a9a9a" stroke="#222" stroke-width="0.70"/>
<ellipse cx="185.70" cy="205.30" rx="1.90" ry="4.60" transform="rotate(8.0 185.70 205.30)" fill="#c9c9c9" stroke="#111" stroke-width="0.70"/>
<ellipse cx="185.50" cy="205.50" rx="0.90" ry="3.00" transform="rotate(8.0 185.50 205.50)" fill="#0a0a0a" stroke="#0c0c0c" stroke-width="0.70"/>
<ellipse cx="182.00" cy="199.30" rx="2.20" ry="1.30" transform="rotate(0.0 182.00 199.30)" fill="#2a2a2a" stroke="#0c0c0c" stroke-width="0.70"/>
<ellipse cx="188.50" cy="216.50" rx="2.20" ry="1.20" transform="rotate(0.0 188.50 216.50)" fill="#555" stroke="#333" stroke-width="0.40"/>
<ellipse cx="168.60" cy="208.00" rx="1.30" ry="2.40" transform="rotate(30.0 168.60 208.00)" fill="#777" stroke="#0c0c0c" stroke-width="0.70"/>
<ellipse cx="171.50" cy="204.60" rx="1.00" ry="1.50" transform="rotate(0.0 171.50 204.60)" fill="#777" stroke="#0c0c0c" stroke-width="0.70"/>
<ellipse cx="173.00" cy="211.00" rx="0.90" ry="0.90" transform="rotate(0.0 173.00 211.00)" fill="#777" stroke="#0c0c0c" stroke-width="0.70"/>
<path d="M341.00,184.88 C341.31,184.56 343.50,186.12 344.75,186.12 C346.00,186.12 347.25,185.23 348.50,184.88 C349.75,184.52 351.00,184.00 352.25,184.00 C353.50,184.00 355.06,184.31 356.00,184.88 C356.94,185.44 356.73,186.85 357.88,187.38 C359.02,187.90 361.31,187.69 362.88,188.00 C364.44,188.31 366.73,188.52 367.25,189.25 C367.77,189.98 366.42,191.12 366.00,192.38 C365.58,193.62 365.58,195.98 364.75,196.75 C363.92,197.52 362.25,197.00 361.00,197.00 C359.75,197.00 358.71,197.00 357.25,196.75 C355.79,196.50 353.71,196.02 352.25,195.50 C350.79,194.98 349.65,194.42 348.50,193.62 C347.35,192.83 346.31,191.69 345.38,190.75 C344.44,189.81 343.60,188.98 342.88,188.00 C342.15,187.02 340.69,185.19 341.00,184.88Z" fill="#606060" stroke="#0c0c0c" stroke-width="0.80" opacity="1.00" stroke-linejoin="round"/>
<path d="M343.15,186.36 C343.35,186.11 345.10,186.98 346.12,186.90 C347.15,186.81 348.29,186.05 349.31,185.84 C350.32,185.64 351.17,185.61 352.21,185.68 C353.25,185.75 354.79,185.83 355.57,186.28 C356.35,186.72 355.97,187.96 356.89,188.35 C357.81,188.74 359.85,188.45 361.11,188.59 C362.37,188.74 364.06,188.67 364.45,189.24 C364.85,189.82 363.79,190.96 363.46,192.03 C363.13,193.10 363.20,195.09 362.48,195.66 C361.76,196.23 360.13,195.50 359.15,195.44 C358.17,195.38 357.74,195.46 356.60,195.30 C355.45,195.13 353.52,194.80 352.28,194.45 C351.04,194.11 350.02,193.87 349.16,193.23 C348.30,192.58 347.84,191.39 347.13,190.59 C346.43,189.79 345.57,189.13 344.91,188.42 C344.25,187.72 342.95,186.62 343.15,186.36Z" fill="#b0b0b0" stroke="#0c0c0c" stroke-width="0.80" opacity="1.00" stroke-linejoin="round"/>
<path d="M345.64,187.17 C345.79,186.93 346.91,187.70 347.62,187.76 C348.33,187.82 349.11,187.73 349.90,187.53 C350.68,187.32 351.52,186.51 352.35,186.52 C353.18,186.53 354.33,187.26 354.88,187.59 C355.44,187.92 355.09,188.29 355.69,188.49 C356.29,188.70 357.58,188.65 358.51,188.83 C359.43,189.02 360.92,189.13 361.24,189.58 C361.56,190.04 360.64,190.73 360.42,191.58 C360.19,192.42 360.34,194.16 359.90,194.64 C359.46,195.12 358.54,194.50 357.77,194.46 C357.01,194.42 356.21,194.55 355.29,194.39 C354.37,194.23 353.18,193.85 352.26,193.51 C351.35,193.17 350.41,192.84 349.79,192.34 C349.17,191.84 349.06,191.03 348.55,190.51 C348.04,189.99 347.21,189.77 346.73,189.21 C346.24,188.65 345.49,187.41 345.64,187.17Z" fill="#4a4a4a" stroke="#0c0c0c" stroke-width="0.80" opacity="1.00" stroke-linejoin="round"/>
<path d="M348.15,188.23 C348.26,188.07 348.79,188.73 349.24,188.75 C349.69,188.78 350.25,188.46 350.83,188.39 C351.41,188.32 352.16,188.37 352.72,188.32 C353.27,188.27 353.89,187.89 354.16,188.10 C354.43,188.30 353.86,189.32 354.32,189.58 C354.78,189.84 356.24,189.62 356.93,189.66 C357.62,189.70 358.31,189.49 358.46,189.83 C358.61,190.17 357.96,191.13 357.82,191.73 C357.69,192.33 357.89,193.20 357.63,193.43 C357.36,193.66 356.81,193.19 356.23,193.10 C355.65,193.02 354.76,192.99 354.13,192.94 C353.49,192.89 352.90,192.95 352.42,192.81 C351.93,192.67 351.65,192.39 351.21,192.09 C350.77,191.78 350.18,191.36 349.75,190.97 C349.32,190.57 348.89,190.17 348.62,189.72 C348.35,189.26 348.05,188.39 348.15,188.23Z" fill="#aaa" stroke="#0c0c0c" stroke-width="0.80" opacity="1.00" stroke-linejoin="round"/>
<path d="M349.42,189.58 C349.46,189.53 350.08,190.03 350.45,189.97 C350.82,189.92 351.35,189.40 351.64,189.24 C351.93,189.08 351.88,188.95 352.18,188.99 C352.48,189.04 353.21,189.40 353.44,189.52 C353.66,189.63 353.26,189.57 353.52,189.68 C353.78,189.79 354.60,190.09 355.01,190.19 C355.41,190.28 355.83,190.13 355.96,190.23 C356.10,190.34 355.92,190.51 355.81,190.84 C355.70,191.16 355.46,191.94 355.30,192.20 C355.14,192.46 355.09,192.39 354.86,192.39 C354.63,192.39 354.34,192.32 353.91,192.21 C353.47,192.10 352.60,191.85 352.25,191.75 C351.91,191.65 352.13,191.84 351.86,191.62 C351.60,191.40 350.93,190.68 350.66,190.45 C350.38,190.22 350.40,190.40 350.19,190.25 C349.98,190.10 349.37,189.62 349.42,189.58Z" fill="#0a0a0a" stroke="#0c0c0c" stroke-width="0.80" opacity="1.00" stroke-linejoin="round"/>
<path d="M357.25,197.12 C358.46,196.02 362.92,196.85 364.75,197.12 C366.58,197.40 367.58,197.65 368.25,198.75 C368.92,199.85 368.81,201.88 368.75,203.75 C368.69,205.62 367.88,208.12 367.88,210.00 C367.88,211.88 368.65,213.54 368.75,215.00 C368.85,216.46 369.27,218.17 368.50,218.75 C367.73,219.33 365.27,219.33 364.12,218.50 C362.98,217.67 362.46,214.44 361.62,213.75 C360.79,213.06 359.69,215.00 359.12,214.38 C358.56,213.75 358.52,211.77 358.25,210.00 C357.98,208.23 357.67,205.90 357.50,203.75 C357.33,201.60 356.04,198.23 357.25,197.12Z" fill="#606060" stroke="#0c0c0c" stroke-width="0.80" opacity="1.00" stroke-linejoin="round"/>
<path d="M358.94,198.81 C359.81,197.91 363.02,198.59 364.34,198.81 C365.66,199.03 366.38,199.24 366.86,200.15 C367.34,201.05 367.27,202.71 367.22,204.25 C367.18,205.78 366.59,207.83 366.59,209.37 C366.59,210.91 367.15,212.27 367.22,213.47 C367.30,214.67 367.60,216.07 367.04,216.54 C366.49,217.02 364.72,217.02 363.89,216.34 C363.07,215.66 362.69,213.01 362.09,212.44 C361.49,211.88 360.70,213.47 360.29,212.96 C359.89,212.45 359.86,210.82 359.66,209.37 C359.47,207.92 359.24,206.00 359.12,204.25 C359.00,202.49 358.07,199.72 358.94,198.81Z" fill="#c9c9c9" stroke="#0c0c0c" stroke-width="0.80" opacity="1.00" stroke-linejoin="round"/>
<path d="M360.12,200.82 C360.76,200.24 363.22,201.08 364.15,201.22 C365.08,201.36 365.39,201.04 365.70,201.64 C366.01,202.25 366.01,203.71 366.03,204.83 C366.04,205.95 365.74,207.25 365.78,208.39 C365.83,209.52 366.27,210.80 366.30,211.66 C366.34,212.52 366.38,213.25 366.00,213.56 C365.62,213.86 364.57,213.96 364.01,213.47 C363.45,212.98 363.13,210.98 362.62,210.62 C362.12,210.26 361.31,211.60 360.97,211.31 C360.62,211.01 360.67,209.94 360.56,208.84 C360.45,207.73 360.36,206.03 360.29,204.69 C360.22,203.35 359.47,201.40 360.12,200.82Z" fill="#5c5c5c" stroke="#0c0c0c" stroke-width="0.80" opacity="1.00" stroke-linejoin="round"/>
<path d="M361.17,202.99 C361.57,202.64 363.28,203.21 363.87,203.31 C364.46,203.41 364.52,203.17 364.69,203.58 C364.86,203.99 364.91,205.11 364.89,205.77 C364.87,206.43 364.58,206.89 364.57,207.52 C364.55,208.16 364.69,208.95 364.80,209.57 C364.91,210.19 365.41,210.97 365.22,211.25 C365.04,211.53 364.07,211.59 363.71,211.23 C363.34,210.86 363.34,209.33 363.02,209.07 C362.69,208.81 361.96,209.93 361.76,209.67 C361.56,209.41 361.85,208.22 361.81,207.51 C361.77,206.80 361.63,206.17 361.52,205.41 C361.41,204.66 360.78,203.34 361.17,202.99Z" fill="#e4e4e4" stroke="#0c0c0c" stroke-width="0.80" opacity="1.00" stroke-linejoin="round"/>
<path d="M362.35,204.86 C362.50,204.60 363.06,204.62 363.31,204.66 C363.56,204.71 363.71,204.95 363.88,205.14 C364.06,205.33 364.30,205.53 364.36,205.82 C364.42,206.12 364.30,206.52 364.24,206.90 C364.18,207.28 364.00,207.83 364.00,208.09 C364.00,208.35 364.38,208.41 364.24,208.47 C364.10,208.53 363.36,208.54 363.15,208.45 C362.94,208.36 363.09,208.06 362.98,207.94 C362.88,207.82 362.54,207.90 362.51,207.71 C362.49,207.52 362.83,207.04 362.81,206.79 C362.79,206.55 362.49,206.56 362.41,206.24 C362.33,205.91 362.20,205.12 362.35,204.86Z" fill="#222" stroke="#0c0c0c" stroke-width="0.80" opacity="1.00" stroke-linejoin="round"/>
<ellipse cx="362.00" cy="216.30" rx="1.40" ry="1.70" transform="rotate(0.0 362.00 216.30)" fill="#fff" stroke="#444" stroke-width="0.40"/>
<ellipse cx="352.30" cy="200.50" rx="1.70" ry="1.30" transform="rotate(0.0 352.30 200.50)" fill="#888" stroke="#0c0c0c" stroke-width="0.70"/>
<ellipse cx="353.50" cy="205.50" rx="2.10" ry="1.10" transform="rotate(-30.0 353.50 205.50)" fill="#999" stroke="#555" stroke-width="0.50"/>
<defs><linearGradient id="wg" x1="0" y1="0" x2="1" y2="0"><stop offset="0" stop-color="#6a6a6a"/><stop offset="1" stop-color="#d0d0d0"/></linearGradient></defs>
<path d="M418.60,183.60 C419.18,182.14 420.39,182.30 421.75,181.75 C423.11,181.20 425.08,180.54 426.75,180.30 C428.42,180.06 430.33,179.98 431.75,180.30 C433.17,180.62 434.21,181.47 435.25,182.20 C436.29,182.93 436.81,184.39 438.00,184.70 C439.19,185.01 441.17,183.60 442.40,184.05 C443.63,184.50 444.60,185.91 445.40,187.40 C446.20,188.89 446.83,191.23 447.20,193.00 C447.57,194.77 447.48,196.21 447.60,198.00 C447.73,199.79 447.95,201.75 447.95,203.75 C447.95,205.75 447.88,207.92 447.60,210.00 C447.33,212.08 446.47,214.75 446.30,216.25 C446.13,217.75 448.82,218.54 446.60,219.00 C444.38,219.46 435.51,219.67 433.00,219.00 C430.49,218.33 432.32,216.50 431.55,215.00 C430.78,213.50 429.23,211.67 428.40,210.00 C427.57,208.33 427.17,206.67 426.55,205.00 C425.93,203.33 425.74,201.35 424.70,200.00 C423.66,198.65 421.28,197.94 420.30,196.90 C419.32,195.86 419.13,194.82 418.80,193.75 C418.47,192.68 418.33,192.19 418.30,190.50 C418.27,188.81 418.03,185.06 418.60,183.60Z" fill="#505050" stroke="#000" stroke-width="1.50" opacity="1.00" stroke-linejoin="round"/>
<path d="M420.80,197.40 C420.33,197.70 424.12,198.33 425.20,199.60 C426.28,200.87 426.62,203.18 427.30,205.00 C427.98,206.82 428.48,208.75 429.30,210.50 C430.12,212.25 431.48,214.18 432.20,215.50 C432.92,216.82 433.17,217.92 433.60,218.40 C434.03,218.88 434.60,221.83 434.80,218.40 C435.00,214.97 435.93,201.23 434.80,197.80 C433.67,194.37 430.33,197.87 428.00,197.80 C425.67,197.73 421.27,197.10 420.80,197.40Z" fill="url(#wg)" stroke="none" stroke-width="0.00" opacity="1.00" stroke-linejoin="round"/>
<path d="M438.50,187.20 C439.30,186.32 441.00,186.28 442.00,186.70 C443.00,187.12 443.90,188.32 444.50,189.70 C445.10,191.08 445.38,192.95 445.60,195.00 C445.82,197.05 445.80,199.50 445.80,202.00 C445.80,204.50 445.85,207.70 445.60,210.00 C445.35,212.30 445.07,214.58 444.30,215.80 C443.53,217.02 442.10,217.30 441.00,217.30 C439.90,217.30 438.33,217.35 437.70,215.80 C437.07,214.25 437.22,210.97 437.20,208.00 C437.18,205.03 437.60,200.67 437.60,198.00 C437.60,195.33 437.05,193.80 437.20,192.00 C437.35,190.20 437.70,188.08 438.50,187.20Z" fill="#747474" stroke="#000" stroke-width="0.90" opacity="1.00" stroke-linejoin="round"/>
<path d="M439.40,203.00 C439.68,202.47 440.60,202.32 441.00,202.40 C441.40,202.48 441.48,203.50 441.80,203.50 C442.12,203.50 442.50,202.45 442.90,202.40 C443.30,202.35 444.02,202.60 444.20,203.20 C444.38,203.80 444.25,205.10 444.00,206.00 C443.75,206.90 443.10,207.95 442.70,208.60 C442.30,209.25 442.00,209.97 441.60,209.90 C441.20,209.83 440.68,208.92 440.30,208.20 C439.92,207.48 439.45,206.47 439.30,205.60 C439.15,204.73 439.12,203.53 439.40,203.00Z" fill="#dcdcdc" stroke="#000" stroke-width="0.80" opacity="1.00" stroke-linejoin="round"/>
<ellipse cx="440.60" cy="199.30" rx="2.50" ry="1.50" transform="rotate(0.0 440.60 199.30)" fill="#111" stroke="#000" stroke-width="0.30"/>
<ellipse cx="440.80" cy="214.20" rx="2.30" ry="1.20" transform="rotate(0.0 440.80 214.20)" fill="#aaa" stroke="#333" stroke-width="0.40"/>
<ellipse cx="428.20" cy="188.60" rx="7.25" ry="6.90" transform="rotate(0.0 428.20 188.60)" fill="#5a5a5a" stroke="#e6e6e6" stroke-width="0.55"/>
<ellipse cx="428.20" cy="188.60" rx="5.25" ry="5.00" transform="rotate(0.0 428.20 188.60)" fill="#4c4c4c" stroke="#e0e0e0" stroke-width="0.55"/>
<ellipse cx="428.20" cy="188.60" rx="3.36" ry="3.20" transform="rotate(0.0 428.20 188.60)" fill="#5a5a5a" stroke="#ececec" stroke-width="0.55"/>
<ellipse cx="428.20" cy="188.60" rx="1.58" ry="1.50" transform="rotate(0.0 428.20 188.60)" fill="#050505" stroke="#050505" stroke-width="0.55"/>
</g>
<line x1="79.70" y1="162.40" x2="138.40" y2="162.40" stroke="#000" stroke-width="0.90" />
<line x1="138.40" y1="162.40" x2="138.40" y2="219.00" stroke="#000" stroke-width="0.90" />
<line x1="79.70" y1="162.00" x2="79.70" y2="219.80" stroke="#000" stroke-width="1.70" />
<line x1="78.90" y1="219.00" x2="138.80" y2="219.00" stroke="#000" stroke-width="1.90" />
<line x1="100.80" y1="162.40" x2="100.80" y2="219.00" stroke="#000" stroke-width="1.10" />
<line x1="79.70" y1="196.40" x2="138.40" y2="196.40" stroke="#000" stroke-width="1.10" />
<line x1="78.40" y1="218.50" x2="78.40" y2="162.40" stroke="#000" stroke-width="1.8" stroke-dasharray="1 6.3"/>
<line x1="78.80" y1="219.00" x2="78.80" y2="162.40" stroke="#222" stroke-width="0.9" stroke-dasharray="0.5 1.325"/>
<line x1="79.20" y1="220.30" x2="138.40" y2="220.30" stroke="#000" stroke-width="1.8" stroke-dasharray="1 6.3"/>
<line x1="79.70" y1="219.90" x2="138.40" y2="219.90" stroke="#222" stroke-width="0.9" stroke-dasharray="0.5 1.325"/>
<line x1="157.30" y1="162.40" x2="215.50" y2="162.40" stroke="#000" stroke-width="0.90" />
<line x1="215.50" y1="162.40" x2="215.50" y2="219.00" stroke="#000" stroke-width="0.90" />
<line x1="157.30" y1="162.00" x2="157.30" y2="219.80" stroke="#000" stroke-width="1.70" />
<line x1="156.50" y1="219.00" x2="215.90" y2="219.00" stroke="#000" stroke-width="1.90" />
<line x1="178.20" y1="162.40" x2="178.20" y2="219.00" stroke="#000" stroke-width="1.10" />
<line x1="157.30" y1="196.40" x2="215.50" y2="196.40" stroke="#000" stroke-width="1.10" />
<line x1="156.00" y1="218.50" x2="156.00" y2="162.40" stroke="#000" stroke-width="1.8" stroke-dasharray="1 6.3"/>
<line x1="156.40" y1="219.00" x2="156.40" y2="162.40" stroke="#222" stroke-width="0.9" stroke-dasharray="0.5 1.325"/>
<line x1="156.80" y1="220.30" x2="215.50" y2="220.30" stroke="#000" stroke-width="1.8" stroke-dasharray="1 6.3"/>
<line x1="157.30" y1="219.90" x2="215.50" y2="219.90" stroke="#222" stroke-width="0.9" stroke-dasharray="0.5 1.325"/>
<line x1="339.80" y1="162.50" x2="398.30" y2="162.50" stroke="#000" stroke-width="0.90" />
<line x1="398.30" y1="162.50" x2="398.30" y2="219.00" stroke="#000" stroke-width="0.90" />
<line x1="339.80" y1="162.10" x2="339.80" y2="219.80" stroke="#000" stroke-width="1.70" />
<line x1="339.00" y1="219.00" x2="398.70" y2="219.00" stroke="#000" stroke-width="1.90" />
<line x1="357.50" y1="162.50" x2="357.50" y2="219.00" stroke="#000" stroke-width="1.10" />
<line x1="339.80" y1="197.10" x2="398.30" y2="197.10" stroke="#000" stroke-width="1.10" />
<line x1="338.50" y1="218.50" x2="338.50" y2="162.50" stroke="#000" stroke-width="1.8" stroke-dasharray="1 6.3"/>
<line x1="338.90" y1="219.00" x2="338.90" y2="162.50" stroke="#222" stroke-width="0.9" stroke-dasharray="0.5 1.325"/>
<line x1="339.30" y1="220.30" x2="398.30" y2="220.30" stroke="#000" stroke-width="1.8" stroke-dasharray="1 6.3"/>
<line x1="339.80" y1="219.90" x2="398.30" y2="219.90" stroke="#222" stroke-width="0.9" stroke-dasharray="0.5 1.325"/>
<line x1="417.60" y1="162.50" x2="475.80" y2="162.50" stroke="#000" stroke-width="0.90" />
<line x1="475.80" y1="162.50" x2="475.80" y2="219.00" stroke="#000" stroke-width="0.90" />
<line x1="417.60" y1="162.10" x2="417.60" y2="219.80" stroke="#000" stroke-width="1.70" />
<line x1="416.80" y1="219.00" x2="476.20" y2="219.00" stroke="#000" stroke-width="1.90" />
<line x1="435.50" y1="162.50" x2="435.50" y2="219.00" stroke="#000" stroke-width="1.10" />
<line x1="417.60" y1="197.10" x2="475.80" y2="197.10" stroke="#000" stroke-width="1.10" />
<line x1="416.30" y1="218.50" x2="416.30" y2="162.50" stroke="#000" stroke-width="1.8" stroke-dasharray="1 6.3"/>
<line x1="416.70" y1="219.00" x2="416.70" y2="162.50" stroke="#222" stroke-width="0.9" stroke-dasharray="0.5 1.325"/>
<line x1="417.10" y1="220.30" x2="475.80" y2="220.30" stroke="#000" stroke-width="1.8" stroke-dasharray="1 6.3"/>
<line x1="417.60" y1="219.90" x2="475.80" y2="219.90" stroke="#222" stroke-width="0.9" stroke-dasharray="0.5 1.325"/>
<text x="82.00" y="170.40" font-size="8.90" text-anchor="start" font-weight="normal" fill="#222" >47</text>
<text x="136.60" y="170.40" font-size="8.90" text-anchor="end" font-weight="normal" fill="#222" >14</text>
<text x="136.60" y="217.30" font-size="8.90" text-anchor="end" font-weight="normal" fill="#222" >32</text>
<text x="160.00" y="170.40" font-size="8.90" text-anchor="start" font-weight="normal" fill="#222" >67</text>
<text x="214.60" y="170.40" font-size="8.90" text-anchor="end" font-weight="normal" fill="#222" >15</text>
<text x="214.60" y="217.30" font-size="8.90" text-anchor="end" font-weight="normal" fill="#222" >14</text>
<text x="342.30" y="170.40" font-size="8.90" text-anchor="start" font-weight="normal" fill="#222" >42</text>
<text x="396.60" y="170.40" font-size="8.90" text-anchor="end" font-weight="normal" fill="#222" >13</text>
<text x="396.60" y="217.30" font-size="8.90" text-anchor="end" font-weight="normal" fill="#222" >39</text>
<text x="420.00" y="170.40" font-size="8.90" text-anchor="start" font-weight="normal" fill="#222" >68</text>
<text x="474.20" y="170.40" font-size="8.90" text-anchor="end" font-weight="normal" fill="#222" >9</text>
<text x="474.20" y="217.30" font-size="8.90" text-anchor="end" font-weight="normal" fill="#222" >16</text>
<text x="0.70" y="251.60" font-size="11.00" text-anchor="start" font-weight="bold" fill="#000" >E</text>
<rect x="43.1" y="257.6" width="202.8" height="94.2" fill="none" stroke="#000" stroke-width="1.8"/>
<text x="39.80" y="260.00" font-size="6.80" text-anchor="end" font-weight="normal" fill="#222" >10</text>
<text x="39.80" y="307.60" font-size="6.80" text-anchor="end" font-weight="normal" fill="#222" >5</text>
<text x="39.80" y="354.40" font-size="6.80" text-anchor="end" font-weight="normal" fill="#222" >0</text>
<text transform="translate(27.50,305.40) rotate(-90)" font-size="7.90" text-anchor="middle" fill="#222"># of OT-I (10<tspan font-size="4.4" dy="-2.8">6</tspan><tspan dy="2.8">)</tspan></text>
<path d="M81.60,302.50 L85.00,296.50 L88.40,302.50 Z" fill="none" stroke="#111" stroke-width="1.20" stroke-linejoin="miter"/>
<path d="M81.60,311.50 L85.00,305.50 L88.40,311.50 Z" fill="none" stroke="#111" stroke-width="1.20" stroke-linejoin="miter"/>
<path d="M81.60,321.20 L85.00,315.20 L88.40,321.20 Z" fill="none" stroke="#111" stroke-width="1.20" stroke-linejoin="miter"/>
<path d="M81.60,339.50 L85.00,333.50 L88.40,339.50 Z" fill="none" stroke="#111" stroke-width="1.20" stroke-linejoin="miter"/>
<path d="M81.60,343.75 L85.00,337.75 L88.40,343.75 Z" fill="none" stroke="#111" stroke-width="1.20" stroke-linejoin="miter"/>
<path d="M82.25,350.90 L85.00,346.30 L87.75,350.90 Z" fill="#aaa" stroke="#999" stroke-width="0.80" stroke-linejoin="miter"/>
<line x1="74.50" y1="320.00" x2="95.30" y2="320.00" stroke="#000" stroke-width="1.60" />
<line x1="74.50" y1="350.00" x2="95.30" y2="350.00" stroke="#aaa" stroke-width="1.80" />
<line x1="129.40" y1="349.70" x2="149.60" y2="349.70" stroke="#000" stroke-width="1.70" />
<path d="M136.20,349.20 L139.50,344.60 L142.80,349.20 Z" fill="#1a1a1a" stroke="#1a1a1a" stroke-width="0.60" stroke-linejoin="miter"/>
<line x1="134.50" y1="353.50" x2="143.60" y2="353.50" stroke="#555" stroke-width="1.30" />
<line x1="81.50" y1="353.60" x2="87.50" y2="353.60" stroke="#aaa" stroke-width="1.20" />
<path d="M190.45,326.10 L193.75,320.30 L197.05,326.10 Z" fill="none" stroke="#111" stroke-width="1.20" stroke-linejoin="miter"/>
<path d="M190.85,332.30 L193.75,327.30 L196.65,332.30 Z" fill="#aaa" stroke="#777" stroke-width="0.80" stroke-linejoin="miter"/>
<path d="M190.75,335.90 L193.75,330.90 L196.75,335.90 Z" fill="#8a8a8a" stroke="#444" stroke-width="0.90" stroke-linejoin="miter"/>
<path d="M190.65,339.70 L193.75,334.70 L196.85,339.70 Z" fill="#666" stroke="#1a1a1a" stroke-width="1.00" stroke-linejoin="miter"/>
<line x1="183.90" y1="340.50" x2="204.20" y2="340.50" stroke="#000" stroke-width="1.70" />
<path d="M190.75,347.70 L193.75,342.70 L196.75,347.70 Z" fill="#666" stroke="#1a1a1a" stroke-width="1.00" stroke-linejoin="miter"/>
<path d="M190.75,350.90 L193.75,346.30 L196.75,350.90 Z" fill="#666" stroke="#1a1a1a" stroke-width="1.00" stroke-linejoin="miter"/>
<text x="70.20" y="366.40" font-size="7.70" text-anchor="start" font-weight="normal" fill="#222" >KLRG1<tspan font-size="3.9" dy="-3.2">hi</tspan></text>
<text x="70.20" y="375.90" font-size="7.70" text-anchor="start" font-weight="normal" fill="#222" >CD127<tspan font-size="3.9" dy="-3.2">lo</tspan></text>
<text x="124.60" y="366.40" font-size="7.70" text-anchor="start" font-weight="normal" fill="#222" >KLRG1<tspan font-size="3.9" dy="-3.2">hi</tspan></text>
<text x="124.60" y="375.90" font-size="7.70" text-anchor="start" font-weight="normal" fill="#222" >CD127<tspan font-size="3.9" dy="-3.2">hi</tspan></text>
<text x="179.00" y="366.40" font-size="7.70" text-anchor="start" font-weight="normal" fill="#222" >KLRG1<tspan font-size="3.9" dy="-3.2">lo</tspan></text>
<text x="179.00" y="375.90" font-size="7.70" text-anchor="start" font-weight="normal" fill="#222" >CD127<tspan font-size="3.9" dy="-3.2">hi</tspan></text>
<rect x="160.5" y="263.3" width="79" height="44.2" fill="#fff" stroke="#c4c4c4" stroke-width="0.8"/>
<path d="M165.90,274.00 L169.50,267.20 L173.10,274.00 Z" fill="none" stroke="#111" stroke-width="1.50" stroke-linejoin="miter"/>
<path d="M166.00,284.30 L169.50,277.70 L173.00,284.30 Z" fill="#808080" stroke="#999" stroke-width="0.60" stroke-linejoin="miter"/>
<line x1="163.00" y1="290.70" x2="175.80" y2="290.70" stroke="#000" stroke-width="3.00" />
<line x1="163.00" y1="300.50" x2="175.80" y2="300.50" stroke="#a4a4a4" stroke-width="3.00" />
<text x="178.00" y="272.60" font-size="7.85" text-anchor="start" font-weight="normal" fill="#222" >IL-2 (mouse)</text>
<text x="178.00" y="282.60" font-size="7.85" text-anchor="start" font-weight="normal" fill="#222" >control (mouse)</text>
<text x="178.00" y="292.70" font-size="7.85" text-anchor="start" font-weight="normal" fill="#222" >IL-2 (average)</text>
<text x="178.00" y="302.60" font-size="7.85" text-anchor="start" font-weight="normal" fill="#222" >control (average)</text>
<text x="270.00" y="251.50" font-size="11.00" text-anchor="start" font-weight="bold" fill="#000" >F</text>
<text x="367.70" y="252.90" font-size="8.00" text-anchor="middle" font-weight="normal" fill="#222" >control</text>
<text x="446.50" y="252.90" font-size="8.00" text-anchor="middle" font-weight="normal" fill="#222" >IL-2</text>
<path d="M343.00,300.30 L344.50,298.80 L347.00,296.50 L349.40,292.50 L350.60,287.00 L351.80,281.20 L353.00,275.50 L354.30,269.90 L355.30,265.00 L356.20,262.50 L357.00,263.00 L357.50,259.80 L358.30,263.00 L359.00,261.50 L360.00,263.60 L360.80,267.00 L361.50,271.00 L362.20,272.50 L362.60,276.00 L363.10,281.20 L363.80,285.00 L364.60,288.30 L366.00,292.00 L367.70,295.30 L369.50,297.80 L371.30,298.80 L375.00,299.40 L385.00,299.80 L397.00,300.00 L397.00,300.30Z" fill="#3d3d3d" stroke="#3d3d3d" stroke-width="0.5" stroke-linejoin="round"/>
<path d="M343.00,352.40 L345.80,351.30 L348.00,349.50 L350.00,346.50 L351.40,343.00 L352.50,337.00 L353.50,330.00 L354.50,324.00 L355.50,319.00 L356.30,316.50 L357.00,317.50 L357.80,314.50 L358.50,316.00 L359.20,313.00 L359.90,315.50 L360.50,314.50 L361.20,317.50 L361.80,320.00 L362.50,325.00 L363.20,331.00 L364.00,336.00 L364.80,340.00 L366.00,344.00 L367.50,347.50 L369.00,349.80 L371.00,351.00 L375.00,351.50 L385.00,351.90 L397.00,352.20 L397.00,352.40Z" fill="#3d3d3d" stroke="#3d3d3d" stroke-width="0.5" stroke-linejoin="round"/>
<path d="M426.00,300.30 L429.00,299.32 L431.50,297.35 L433.50,293.42 L435.00,287.52 L436.50,283.59 L437.50,278.68 L438.50,276.22 L439.30,278.68 L440.00,280.64 L441.00,277.69 L442.50,271.80 L444.45,265.90 L445.80,263.93 L446.70,265.41 L447.50,262.46 L448.30,263.44 L449.00,259.51 L449.80,262.95 L450.70,265.90 L451.70,269.83 L452.80,276.71 L454.00,282.61 L455.50,287.52 L457.00,290.47 L459.00,293.42 L461.50,295.39 L464.05,296.86 L466.60,296.56 L469.15,297.84 L472.00,298.33 L475.50,298.83 L475.50,300.30Z" fill="#3d3d3d" stroke="#3d3d3d" stroke-width="0.5" stroke-linejoin="round"/>
<path d="M425.50,352.40 L427.70,351.60 L430.00,349.50 L431.50,345.50 L432.80,338.50 L433.80,330.50 L434.80,322.50 L435.50,316.00 L436.00,312.60 L436.70,316.00 L437.50,321.00 L438.40,329.00 L439.40,337.00 L440.40,341.50 L441.30,343.50 L442.50,344.50 L443.60,343.80 L444.60,344.80 L446.00,345.00 L447.50,344.60 L449.00,345.80 L450.50,346.00 L452.00,345.60 L453.50,347.00 L455.00,348.50 L456.50,350.00 L458.50,351.20 L462.00,351.80 L475.00,352.10 L475.00,352.40Z" fill="#3d3d3d" stroke="#3d3d3d" stroke-width="0.5" stroke-linejoin="round"/>
<line x1="339.50" y1="257.60" x2="397.10" y2="257.60" stroke="#000" stroke-width="1.20" />
<line x1="397.10" y1="257.10" x2="397.10" y2="300.50" stroke="#000" stroke-width="1.20" />
<line x1="339.50" y1="257.10" x2="339.50" y2="301.30" stroke="#000" stroke-width="1.50" />
<line x1="338.70" y1="300.50" x2="397.60" y2="300.50" stroke="#000" stroke-width="1.80" />
<line x1="338.20" y1="298.50" x2="338.20" y2="257.60" stroke="#000" stroke-width="1.8" stroke-dasharray="1 6.7"/>
<line x1="338.60" y1="300.50" x2="338.60" y2="257.60" stroke="#222" stroke-width="0.8" stroke-dasharray="0.5 1.425"/>
<line x1="339.00" y1="301.80" x2="397.10" y2="301.80" stroke="#000" stroke-width="2.0" stroke-dasharray="1 13.4"/>
<line x1="339.50" y1="301.60" x2="397.10" y2="301.60" stroke="#111" stroke-width="1.0" stroke-dasharray="0.6 1.2"/>
<line x1="339.50" y1="309.80" x2="397.10" y2="309.80" stroke="#000" stroke-width="1.20" />
<line x1="397.10" y1="309.30" x2="397.10" y2="352.70" stroke="#000" stroke-width="1.20" />
<line x1="339.50" y1="309.30" x2="339.50" y2="353.50" stroke="#000" stroke-width="1.50" />
<line x1="338.70" y1="352.70" x2="397.60" y2="352.70" stroke="#000" stroke-width="1.80" />
<line x1="338.20" y1="350.70" x2="338.20" y2="309.80" stroke="#000" stroke-width="1.8" stroke-dasharray="1 6.7"/>
<line x1="338.60" y1="352.70" x2="338.60" y2="309.80" stroke="#222" stroke-width="0.8" stroke-dasharray="0.5 1.425"/>
<line x1="339.00" y1="354.00" x2="397.10" y2="354.00" stroke="#000" stroke-width="2.0" stroke-dasharray="1 13.4"/>
<line x1="339.50" y1="353.80" x2="397.10" y2="353.80" stroke="#111" stroke-width="1.0" stroke-dasharray="0.6 1.2"/>
<line x1="418.00" y1="257.60" x2="475.80" y2="257.60" stroke="#000" stroke-width="1.20" />
<line x1="475.80" y1="257.10" x2="475.80" y2="300.50" stroke="#000" stroke-width="1.20" />
<line x1="418.00" y1="257.10" x2="418.00" y2="301.30" stroke="#000" stroke-width="1.50" />
<line x1="417.20" y1="300.50" x2="476.30" y2="300.50" stroke="#000" stroke-width="1.80" />
<line x1="416.70" y1="298.50" x2="416.70" y2="257.60" stroke="#000" stroke-width="1.8" stroke-dasharray="1 6.7"/>
<line x1="417.10" y1="300.50" x2="417.10" y2="257.60" stroke="#222" stroke-width="0.8" stroke-dasharray="0.5 1.425"/>
<line x1="417.50" y1="301.80" x2="475.80" y2="301.80" stroke="#000" stroke-width="2.0" stroke-dasharray="1 13.4"/>
<line x1="418.00" y1="301.60" x2="475.80" y2="301.60" stroke="#111" stroke-width="1.0" stroke-dasharray="0.6 1.2"/>
<line x1="418.00" y1="309.80" x2="475.80" y2="309.80" stroke="#000" stroke-width="1.20" />
<line x1="475.80" y1="309.30" x2="475.80" y2="352.70" stroke="#000" stroke-width="1.20" />
<line x1="418.00" y1="309.30" x2="418.00" y2="353.50" stroke="#000" stroke-width="1.50" />
<line x1="417.20" y1="352.70" x2="476.30" y2="352.70" stroke="#000" stroke-width="1.80" />
<line x1="416.70" y1="350.70" x2="416.70" y2="309.80" stroke="#000" stroke-width="1.8" stroke-dasharray="1 6.7"/>
<line x1="417.10" y1="352.70" x2="417.10" y2="309.80" stroke="#222" stroke-width="0.8" stroke-dasharray="0.5 1.425"/>
<line x1="417.50" y1="354.00" x2="475.80" y2="354.00" stroke="#000" stroke-width="2.0" stroke-dasharray="1 13.4"/>
<line x1="418.00" y1="353.80" x2="475.80" y2="353.80" stroke="#111" stroke-width="1.0" stroke-dasharray="0.6 1.2"/>
<line x1="365.00" y1="286.90" x2="397.10" y2="286.90" stroke="#111" stroke-width="1.50" />
<line x1="365.00" y1="285.30" x2="365.00" y2="288.50" stroke="#111" stroke-width="1.10" />
<line x1="365.00" y1="339.50" x2="397.10" y2="339.50" stroke="#111" stroke-width="1.50" />
<line x1="365.00" y1="337.90" x2="365.00" y2="341.10" stroke="#111" stroke-width="1.10" />
<line x1="443.30" y1="287.00" x2="475.80" y2="287.00" stroke="#111" stroke-width="1.50" />
<line x1="443.30" y1="285.40" x2="443.30" y2="288.60" stroke="#111" stroke-width="1.10" />
<line x1="443.80" y1="339.50" x2="475.80" y2="339.50" stroke="#111" stroke-width="1.50" />
<line x1="443.80" y1="337.90" x2="443.80" y2="341.10" stroke="#111" stroke-width="1.10" />
<text x="387.40" y="279.00" font-size="8.80" text-anchor="middle" font-weight="normal" fill="#222" >8</text>
<text x="387.40" y="331.50" font-size="8.80" text-anchor="middle" font-weight="normal" fill="#222" >7</text>
<text x="465.50" y="279.00" font-size="8.80" text-anchor="middle" font-weight="normal" fill="#222" >65</text>
<text x="465.50" y="331.50" font-size="8.80" text-anchor="middle" font-weight="normal" fill="#222" >19</text>
<text x="305.80" y="282.60" font-size="7.90" text-anchor="start" font-weight="normal" fill="#222" >KLRG1<tspan font-size="3.9" dy="-3.2">lo</tspan></text>
<text x="305.80" y="335.10" font-size="7.90" text-anchor="start" font-weight="normal" fill="#222" >KLRG1<tspan font-size="3.9" dy="-3.2">hi</tspan></text>
<text x="339.40" y="361.70" font-size="6.50" text-anchor="start" font-weight="normal" fill="#222" >BRDU</text>
<line x1="361.50" y1="360.10" x2="468.60" y2="360.10" stroke="#111" stroke-width="1.50" />
<path d="M474.60,360.10 L465.60,357.10 L465.60,363.10 Z" fill="#111"/>
</svg>
</body></html>
